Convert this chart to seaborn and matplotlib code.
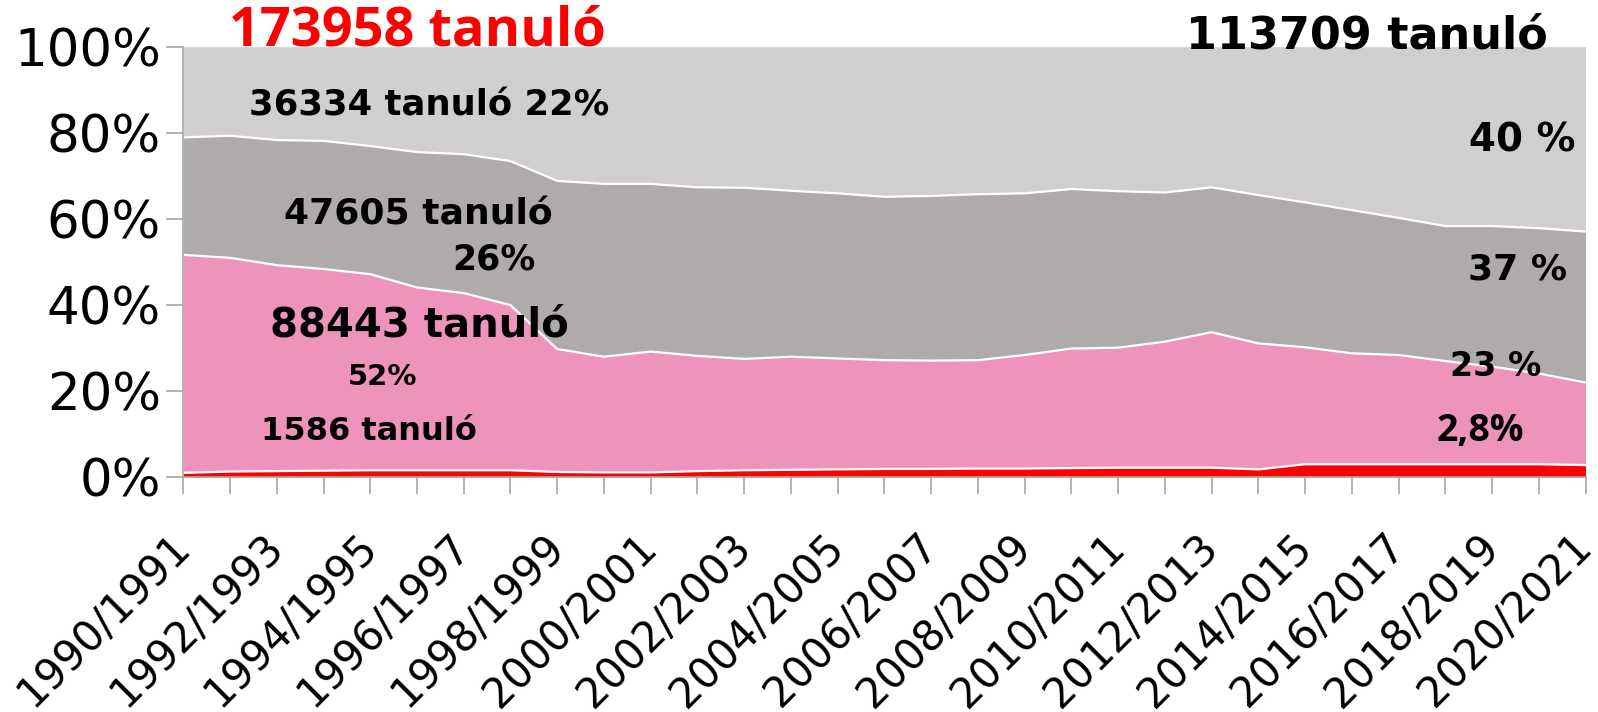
import numpy as np
import pandas as pd
import matplotlib
matplotlib.use("Agg")
import matplotlib.pyplot as plt
import seaborn as sns

# ---- data (shares in %) ----
years = [f"{y}/{y+1}" for y in range(1990, 2021)]
red_share = [0.9, 1.2, 1.3, 1.4, 1.5, 1.5, 1.5, 1.5, 1.1, 1.0, 1.0, 1.3, 1.5, 1.6, 1.7, 1.8,
             1.8, 1.9, 1.9, 2.0, 2.1, 2.1, 2.1, 1.7, 2.9, 2.9, 2.9, 2.9, 2.9, 2.9, 2.7]
pink_share = [50.7, 49.7, 47.9, 46.9, 45.6, 42.5, 41.2, 38.4, 28.6, 26.9, 28.1, 26.8, 25.9, 26.3,
              25.8, 25.3, 25.2, 25.2, 26.4, 27.8, 27.9, 29.3, 31.5, 29.3, 27.2, 25.8, 25.4, 24.0,
              22.7, 21.1, 19.2]
dark_share = [27.3, 28.4, 29.1, 29.8, 29.8, 31.5, 32.3, 33.5, 39.1, 40.2, 39.0, 39.2, 39.8, 38.6,
              38.4, 38.0, 38.3, 38.6, 37.6, 37.1, 36.4, 34.7, 33.7, 34.5, 33.7, 33.3, 31.9, 31.4,
              32.7, 33.8, 35.1]
light_share = [21.1, 20.7, 21.7, 21.9, 23.1, 24.5, 25.0, 26.6, 31.2, 31.9, 31.9, 32.7, 32.8, 33.5,
               34.1, 34.9, 34.7, 34.3, 34.1, 33.1, 33.6, 33.9, 32.7, 34.5, 36.2, 38.0, 39.8, 41.7,
               41.7, 42.2, 43.0]
y_ticks = [0, 20, 40, 60, 80, 100]
y_tick_labels = ["0%", "20%", "40%", "60%", "80%", "100%"]

colors = ["#FF0000", "#EE94BC", "#AFABAB", "#D0CECF"]

df = pd.DataFrame({"year": years, "red": red_share, "pink": pink_share,
                   "dark": dark_share, "light": light_share})
df["idx"] = np.arange(len(df))
tot = df[["red", "pink", "dark", "light"]].sum(axis=1)
cum = df[["red", "pink", "dark", "light"]].div(tot, axis=0).cumsum(axis=1) * 100

sns.set_theme(style="white")
plt.rcParams["font.family"] = ["DejaVu Sans"]

W, H = 1598, 712
fig = plt.figure(figsize=(W / 100, H / 100), dpi=100)
x0, x1, ytop, ybot = 183.3, 1585.5, 46.7, 476.7
ax = fig.add_axes([x0 / W, 1 - ybot / H, (x1 - x0) / W, (ybot - ytop) / H])

lower = np.zeros(len(df))
for col, c in zip(["red", "pink", "dark", "light"], colors):
    ax.fill_between(df["idx"], lower, cum[col], color=c, linewidth=0, zorder=1)
    lower = cum[col].values

line_df = pd.DataFrame({"idx": np.tile(df["idx"], 3),
                        "val": np.concatenate([cum["red"], cum["pink"], cum["dark"]]),
                        "layer": np.repeat(["red", "pink", "dark"], len(df))})
sns.lineplot(data=line_df, x="idx", y="val", units="layer", estimator=None,
             color="white", linewidth=1.6, ax=ax, zorder=2, legend=False)

ax.set_xlim(0, len(df) - 1)
ax.set_ylim(0, 100)
ax.set_xlabel("")
ax.set_ylabel("")
ax.set_facecolor("white")
for s in ["top", "right"]:
    ax.spines[s].set_visible(False)
for s in ["left", "bottom"]:
    ax.spines[s].set_color("#A6A6A6")
    ax.spines[s].set_linewidth(1.2)
    ax.spines[s].set_zorder(3)

ax.set_yticks(y_ticks)
ax.set_yticklabels(y_tick_labels, fontsize=37, color="black")
ax.set_xticks(df["idx"])
ax.set_xticklabels([y if i % 2 == 0 else "" for i, y in enumerate(years)],
                   fontsize=30, color="black", rotation=45, ha="right", va="center",
                   rotation_mode="anchor")
ax.tick_params(axis="y", direction="out", length=12, width=1.2, color="#A6A6A6", pad=4, left=True)
ax.tick_params(axis="x", direction="out", length=12, width=1.2, color="#A6A6A6", pad=34, bottom=True)
ax.grid(False)


def ftext(px, py, s, size, color="black", family="DejaVu Sans"):
    fig.text(px / W, 1 - py / H, s, fontsize=size, fontweight="bold", color=color,
             ha="center", va="center", family=family)


ftext(417, 32, "173958 tanuló", 39, color="#FF0000", family="Open Sans")
ftext(1367, 36, "113709 tanuló", 32)
ftext(429, 105, "36334 tanuló 22%", 25.5)
ftext(418, 215, "47605 tanuló", 26)
ftext(494, 260, "26%", 25)
ftext(419, 326, "88443 tanuló", 29)
ftext(383, 377, "52%", 21)
ftext(369, 431, "1586 tanuló", 23)
ftext(1522, 140, "40 %", 28)
ftext(1517, 269, "37 %", 26)
ftext(1496, 367, "23 %", 24)
ftext(1480, 431, "2,8%", 27, family="Open Sans")

fig.savefig("out.png", dpi=100)
